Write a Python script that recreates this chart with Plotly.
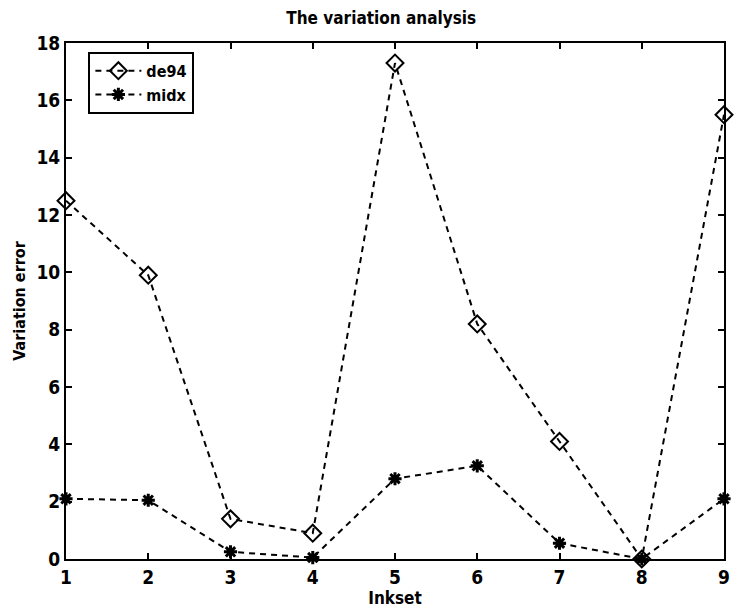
import plotly.graph_objects as go

inkset = [1, 2, 3, 4, 5, 6, 7, 8, 9]
de94 = [12.5, 9.9, 1.4, 0.9, 17.3, 8.2, 4.1, 0.0, 15.5]
midx = [2.1, 2.05, 0.25, 0.05, 2.8, 3.25, 0.55, 0.0, 2.1]

FONT = 'DejaVu Sans Condensed, Liberation Sans, Arial'

fig = go.Figure()
fig.add_trace(go.Scatter(
    x=inkset, y=de94, mode='lines+markers', name='de94', cliponaxis=False,
    line=dict(color='black', width=2, dash='6px,5px'),
    marker=dict(symbol='diamond-open', size=13, color='black', line=dict(width=2, color='black'))
))
fig.add_trace(go.Scatter(
    x=inkset, y=midx, mode='lines+markers', name='midx', cliponaxis=False,
    line=dict(color='black', width=2, dash='6px,5px'),
    marker=dict(symbol='asterisk-open', size=11, color='black', line=dict(width=3, color='black'))
))

axis_common = dict(
    showgrid=False, zeroline=False, showline=True, linecolor='black', linewidth=2,
    mirror='allticks', ticks='inside', ticklen=6, tickcolor='black', tickwidth=2,
    tickfont=dict(size=19, color='black', family=FONT, weight='bold'),
)

fig.update_layout(
    width=736, height=614,
    margin=dict(l=66, r=6, t=43, b=55),
    paper_bgcolor='white', plot_bgcolor='white',
    title=dict(text='The variation analysis', x=0.518, xanchor='center', y=0.98, yanchor='top',
               font=dict(size=17, color='black', family=FONT, weight='bold')),
    xaxis=dict(range=[1, 9], tickvals=inkset, title=dict(text='Inkset', standoff=4,
               font=dict(size=17, color='black', family=FONT, weight='bold')),
               **axis_common),
    yaxis=dict(range=[0, 18], tickvals=list(range(0, 19, 2)), title=dict(text='Variation error', standoff=7,
               font=dict(size=16, color='black', family=FONT, weight='bold')),
               **axis_common),
    legend=dict(x=0.034, y=0.983, xanchor='left', yanchor='top', bgcolor='white',
                bordercolor='black', borderwidth=2, tracegroupgap=0, itemwidth=46,
                font=dict(size=16, color='black', family=FONT, weight='bold')),
    showlegend=True,
)

fig.write_html("out.html", config={'displayModeBar': False},
               post_script="document.body.style.margin='0';document.body.style.overflow='hidden';")
